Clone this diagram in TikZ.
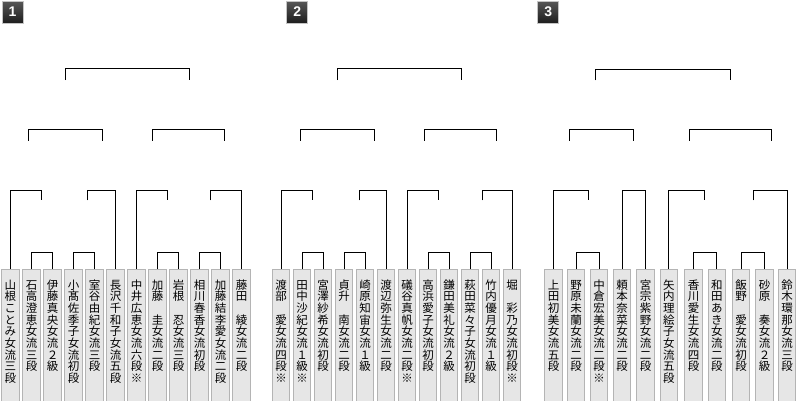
\documentclass[tikz,border=0pt]{standalone}
\usepackage{fontspec}
\newfontfamily\jp{Noto Sans CJK JP}
\newfontfamily\badgefont{Liberation Sans}
\definecolor{boxfill}{HTML}{E6E6E6}
\definecolor{boxline}{HTML}{B4B4B4}
\definecolor{badgetop}{HTML}{585858}
\definecolor{badgebot}{HTML}{1E1E1E}
\definecolor{badgeline}{HTML}{C4C4C4}
\begin{document}
\begin{tikzpicture}[x=1pt,y=-1pt,
  namebox/.style={draw=boxline,fill=boxfill,line width=1pt,inner sep=0pt,
    text width=17.5pt,align=center,anchor=north,text height=19.5pt,text depth=115pt,
    font=\jp\fontsize{11.5pt}{11.7pt}\selectfont},
  badge/.style={draw=badgeline,line width=1pt,top color=badgetop,bottom color=badgebot,
    minimum width=21pt,minimum height=22pt,inner sep=0pt,text=white,
    font=\badgefont\bfseries\fontsize{14pt}{14pt}\selectfont},
  bracket/.style={draw=black,line width=1pt}]
\useasboundingbox (0,0) rectangle (800,400);

% badges
\node[badge] (n1) at (12.5,12) {1};
\node[badge] (n2) at (297.3,12) {2};
\node[badge] (n3) at (548.3,12) {3};

% bracket 1 entries
\node[namebox] (a1)  at (10.5,269)  {山\\根\\こ\\と\\み\\女\\流\\三\\段};
\node[namebox] (a2)  at (31.5,269)  {石\\高\\澄\\恵\\女\\流\\三\\段};
\node[namebox] (a3)  at (52.5,269)  {伊\\藤\\真\\央\\女\\流\\２\\級};
\node[namebox] (a4)  at (73.5,269)  {小\\髙\\佐\\季\\子\\女\\流\\初\\段};
\node[namebox] (a5)  at (94.5,269)  {室\\谷\\由\\紀\\女\\流\\三\\段};
\node[namebox] (a6)  at (115.5,269) {長\\沢\\千\\和\\子\\女\\流\\五\\段};
\node[namebox] (a7)  at (136.5,269) {中\\井\\広\\恵\\女\\流\\六\\段\\※};
\node[namebox] (a8)  at (157.5,269) {加\\藤\\\mbox{}\\圭\\女\\流\\二\\段};
\node[namebox] (a9)  at (178.5,269) {岩\\根\\\mbox{}\\忍\\女\\流\\三\\段};
\node[namebox] (a10) at (199.5,269) {相\\川\\春\\香\\女\\流\\初\\段};
\node[namebox] (a11) at (220.5,269) {加\\藤\\結\\李\\愛\\女\\流\\二\\段};
\node[namebox] (a12) at (241.5,269) {藤\\田\\\mbox{}\\綾\\女\\流\\二\\段};

% bracket 2 entries
\node[namebox] (b1)  at (281,269) {渡\\部\\\mbox{}\\愛\\女\\流\\四\\段\\※};
\node[namebox] (b2)  at (302,269) {田\\中\\沙\\紀\\女\\流\\１\\級\\※};
\node[namebox] (b3)  at (323,269) {宮\\澤\\紗\\希\\女\\流\\初\\段};
\node[namebox] (b4)  at (344,269) {貞\\升\\\mbox{}\\南\\女\\流\\二\\段};
\node[namebox] (b5)  at (365,269) {崎\\原\\知\\宙\\女\\流\\１\\級};
\node[namebox] (b6)  at (386,269) {渡\\辺\\弥\\生\\女\\流\\二\\段};
\node[namebox] (b7)  at (407,269) {礒\\谷\\真\\帆\\女\\流\\二\\段\\※};
\node[namebox] (b8)  at (428,269) {高\\浜\\愛\\子\\女\\流\\初\\段};
\node[namebox] (b9)  at (449,269) {鎌\\田\\美\\礼\\女\\流\\２\\級};
\node[namebox] (b10) at (470,269) {萩\\田\\菜\\々\\子\\女\\流\\初\\段};
\node[namebox] (b11) at (491,269) {竹\\内\\優\\月\\女\\流\\１\\級};
\node[namebox] (b12) at (512,269) {堀\\\mbox{}\\彩\\乃\\女\\流\\初\\段\\※};

% bracket 3 entries
\node[namebox] (c1)  at (553.6,269) {上\\田\\初\\美\\女\\流\\五\\段};
\node[namebox] (c2)  at (576.2,269) {野\\原\\未\\蘭\\女\\流\\二\\段};
\node[namebox] (c3)  at (599,269)   {中\\倉\\宏\\美\\女\\流\\二\\段\\※};
\node[namebox] (c4)  at (622.2,269) {頼\\本\\奈\\菜\\女\\流\\二\\段};
\node[namebox] (c5)  at (645.5,269) {宮\\宗\\紫\\野\\女\\流\\二\\段};
\node[namebox] (c6)  at (668.8,269) {矢\\内\\理\\絵\\子\\女\\流\\五\\段};
\node[namebox] (c7)  at (693.5,269) {香\\川\\愛\\生\\女\\流\\四\\段};
\node[namebox] (c8)  at (716.8,269) {和\\田\\あ\\き\\女\\流\\二\\段};
\node[namebox] (c9)  at (741.2,269) {飯\\野\\\mbox{}\\愛\\女\\流\\初\\段};
\node[namebox] (c10) at (764.5,269) {砂\\原\\\mbox{}\\奏\\女\\流\\２\\級};
\node[namebox] (c11) at (787.2,269) {鈴\\木\\環\\那\\女\\流\\三\\段};

% free ends of bracket lines
\coordinate (p1a) at (41.3,200.3);  \coordinate (p1b) at (87.3,200.3);
\coordinate (p1c) at (167.3,200.3); \coordinate (p1d) at (210.3,200.3);
\coordinate (q1a) at (28.3,140.7);  \coordinate (q1b) at (102.3,140.7);
\coordinate (q1c) at (152.3,140.7); \coordinate (q1d) at (224.3,140.7);
\coordinate (r1a) at (65.3,80);     \coordinate (r1b) at (189.3,80);

\coordinate (p2a) at (312.3,200.3); \coordinate (p2b) at (359.3,200.3);
\coordinate (p2c) at (438.3,200.3); \coordinate (p2d) at (482.3,200.3);
\coordinate (q2a) at (300.3,140.7); \coordinate (q2b) at (374.3,140.7);
\coordinate (q2c) at (424.3,140.7); \coordinate (q2d) at (496.3,140.7);
\coordinate (r2a) at (337.3,80);    \coordinate (r2b) at (461.3,80);

\coordinate (p3a) at (588.7,200.3); \coordinate (p3c) at (704.3,200.3);
\coordinate (p3d) at (753.3,200.3);
\coordinate (q3a) at (569.3,140.7); \coordinate (q3b) at (633.3,140.7);
\coordinate (q3c) at (689.3,140.7); \coordinate (q3d) at (771.3,140.7);
\coordinate (r3a) at (595.3,80.3);  \coordinate (r3b) at (730.3,80.3);

% bracket 1 lines
\draw[bracket] (a2.north) -- ++(0,-17) -| (a3.north);
\draw[bracket] (a4.north) -- ++(0,-17) -| (a5.north);
\draw[bracket] (a8.north) -- ++(0,-17) -| (a9.north);
\draw[bracket] (a10.north) -- ++(0,-17) -| (a11.north);
\draw[bracket] (a1.north) -- ++(0,-78.7) -| (p1a);
\draw[bracket] (p1b) -- ++(0,-10) -| (a6.north);
\draw[bracket] (a7.north) -- ++(0,-78.7) -| (p1c);
\draw[bracket] (p1d) -- ++(0,-10) -| (a12.north);
\draw[bracket] (q1a) -- ++(0,-11) -| (q1b);
\draw[bracket] (q1c) -- ++(0,-11) -| (q1d);
\draw[bracket] (r1a) -- ++(0,-11.5) -| (r1b);

% bracket 2 lines
\draw[bracket] (b2.north) -- ++(0,-17) -| (b3.north);
\draw[bracket] (b4.north) -- ++(0,-17) -| (b5.north);
\draw[bracket] (b8.north) -- ++(0,-17) -| (b9.north);
\draw[bracket] (b10.north) -- ++(0,-17) -| (b11.north);
\draw[bracket] (b1.north) -- ++(0,-78.7) -| (p2a);
\draw[bracket] (p2b) -- ++(0,-10) -| (b6.north);
\draw[bracket] (b7.north) -- ++(0,-78.7) -| (p2c);
\draw[bracket] (p2d) -- ++(0,-10) -| (b12.north);
\draw[bracket] (q2a) -- ++(0,-11) -| (q2b);
\draw[bracket] (q2c) -- ++(0,-11) -| (q2d);
\draw[bracket] (r2a) -- ++(0,-11.5) -| (r2b);

% bracket 3 lines
\draw[bracket] (c2.north) -- ++(0,-17) -| (c3.north);
\draw[bracket] (c7.north) -- ++(0,-17) -| (c8.north);
\draw[bracket] (c9.north) -- ++(0,-17) -| (c10.north);
\draw[bracket] (c1.north) -- ++(0,-78.7) -| (p3a);
\draw[bracket] (c4.north) -- ++(0,-78.7) -| (c5.north);
\draw[bracket] (c6.north) -- ++(0,-78.7) -| (p3c);
\draw[bracket] (p3d) -- ++(0,-10) -| (c11.north);
\draw[bracket] (q3a) -- ++(0,-11) -| (q3b);
\draw[bracket] (q3c) -- ++(0,-11) -| (q3d);
\draw[bracket] (r3a) -- ++(0,-11.3) -| (r3b);
\end{tikzpicture}
\end{document}
